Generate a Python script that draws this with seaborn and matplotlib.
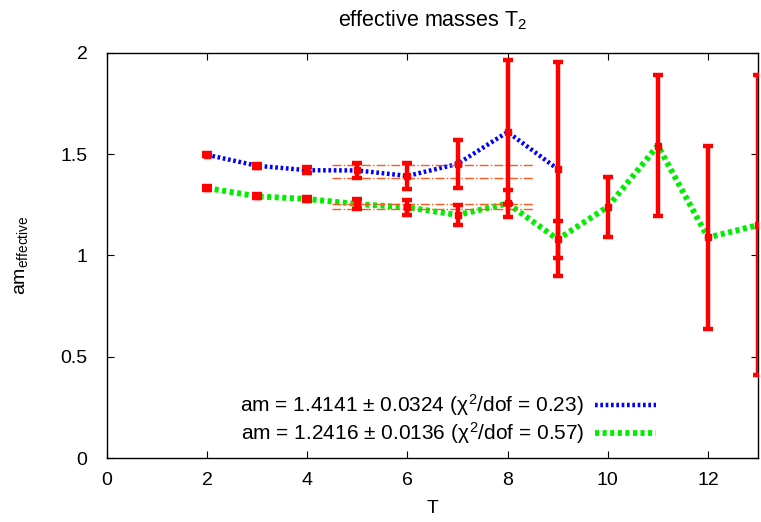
import numpy as np
import pandas as pd
import seaborn as sns
from matplotlib import pyplot as plt

# effective mass data
t_blue = [2, 3, 4, 5, 6, 7, 8, 9]
m_blue = [1.497, 1.443, 1.421, 1.420, 1.393, 1.452, 1.610, 1.427]
e_blue = [0.008, 0.010, 0.015, 0.035, 0.064, 0.120, 0.355, 0.530]

t_green = [2, 3, 4, 5, 6, 7, 8, 9, 10, 11, 12, 13]
m_green = [1.333, 1.292, 1.279, 1.254, 1.238, 1.200, 1.257, 1.080, 1.240, 1.543, 1.089, 1.150]
e_green = [0.008, 0.010, 0.012, 0.025, 0.037, 0.050, 0.067, 0.090, 0.150, 0.350, 0.452, 0.740]

fit_blue = (1.4141, 0.0324)
fit_green = (1.2416, 0.0136)
fit_range = [4.5, 8.5]

df_blue = pd.DataFrame({"T": t_blue, "m": m_blue})
df_green = pd.DataFrame({"T": t_green, "m": m_green})

sns.set_style("ticks")
plt.rcParams["font.family"] = ["Liberation Sans", "DejaVu Sans"]
plt.rcParams["mathtext.fontset"] = "custom"
plt.rcParams["mathtext.rm"] = "Liberation Sans"
plt.rcParams["mathtext.it"] = "Liberation Sans"
plt.rcParams["text.color"] = "black"
plt.rcParams["axes.labelcolor"] = "black"
plt.rcParams["xtick.color"] = "black"
plt.rcParams["ytick.color"] = "black"

fig = plt.figure(figsize=(7.61, 5.22), dpi=100)
ax = fig.add_axes([0.1406, 0.1226, 0.8554, 0.7759])

sns.lineplot(data=df_blue, x="T", y="m", ax=ax, color="#0000ff", lw=3.2,
             linestyle=(0, (0.6, 0.6)), label=r"am = 1.4141 $\pm$ 0.0324 ($\chi^2$/dof = 0.23)")
sns.lineplot(data=df_green, x="T", y="m", ax=ax, color="#00ee00", lw=4.2,
             linestyle=(0, (0.7, 0.6)), label=r"am = 1.2416 $\pm$ 0.0136 ($\chi^2$/dof = 0.57)")

for c, s in [fit_blue, fit_green]:
    for v in (c + s, c - s):
        ax.plot(fit_range, [v, v], color="#ff5a1e", lw=1.0, linestyle="-.", zorder=3)

for t, m, e in [(t_blue, m_blue, e_blue), (t_green, m_green, e_green)]:
    ax.errorbar(t, m, yerr=e, fmt="s", color="#ff0000", ms=5, elinewidth=3.2,
                capsize=3.5, capthick=3.2, zorder=4)

ax.set_xlim(0, 13)
ax.set_ylim(0, 2)
ax.set_xticks([0, 2, 4, 6, 8, 10, 12])
ax.set_xticklabels(["0", "2", "4", "6", "8", "10", "12"])
ax.set_yticks([0, 0.5, 1, 1.5, 2])
ax.set_yticklabels(["0", "0.5", "1", "1.5", "2"])
ax.tick_params(axis="x", direction="in", top=True, labelsize=14, length=5, width=0.8, pad=10)
ax.tick_params(axis="y", direction="in", right=True, labelsize=14, length=5, width=0.8, pad=14)
for sp in ax.spines.values():
    sp.set_visible(True)
    sp.set_linewidth(1.0)
    sp.set_color("black")
ax.set_xlabel("T", fontsize=14, labelpad=8)
ax.set_ylabel(r"am$_{\rm effective}$", fontsize=14, labelpad=22)
ax.set_title(r"effective masses T$_2$", fontsize=15.5, pad=19)

leg = ax.legend(loc="lower right", bbox_to_anchor=(0.872, -0.017), frameon=False, markerfirst=False,
                fontsize=15, handlelength=2.9, handletextpad=0.55, labelspacing=0.1)

fig.savefig("out.png", dpi=100)
